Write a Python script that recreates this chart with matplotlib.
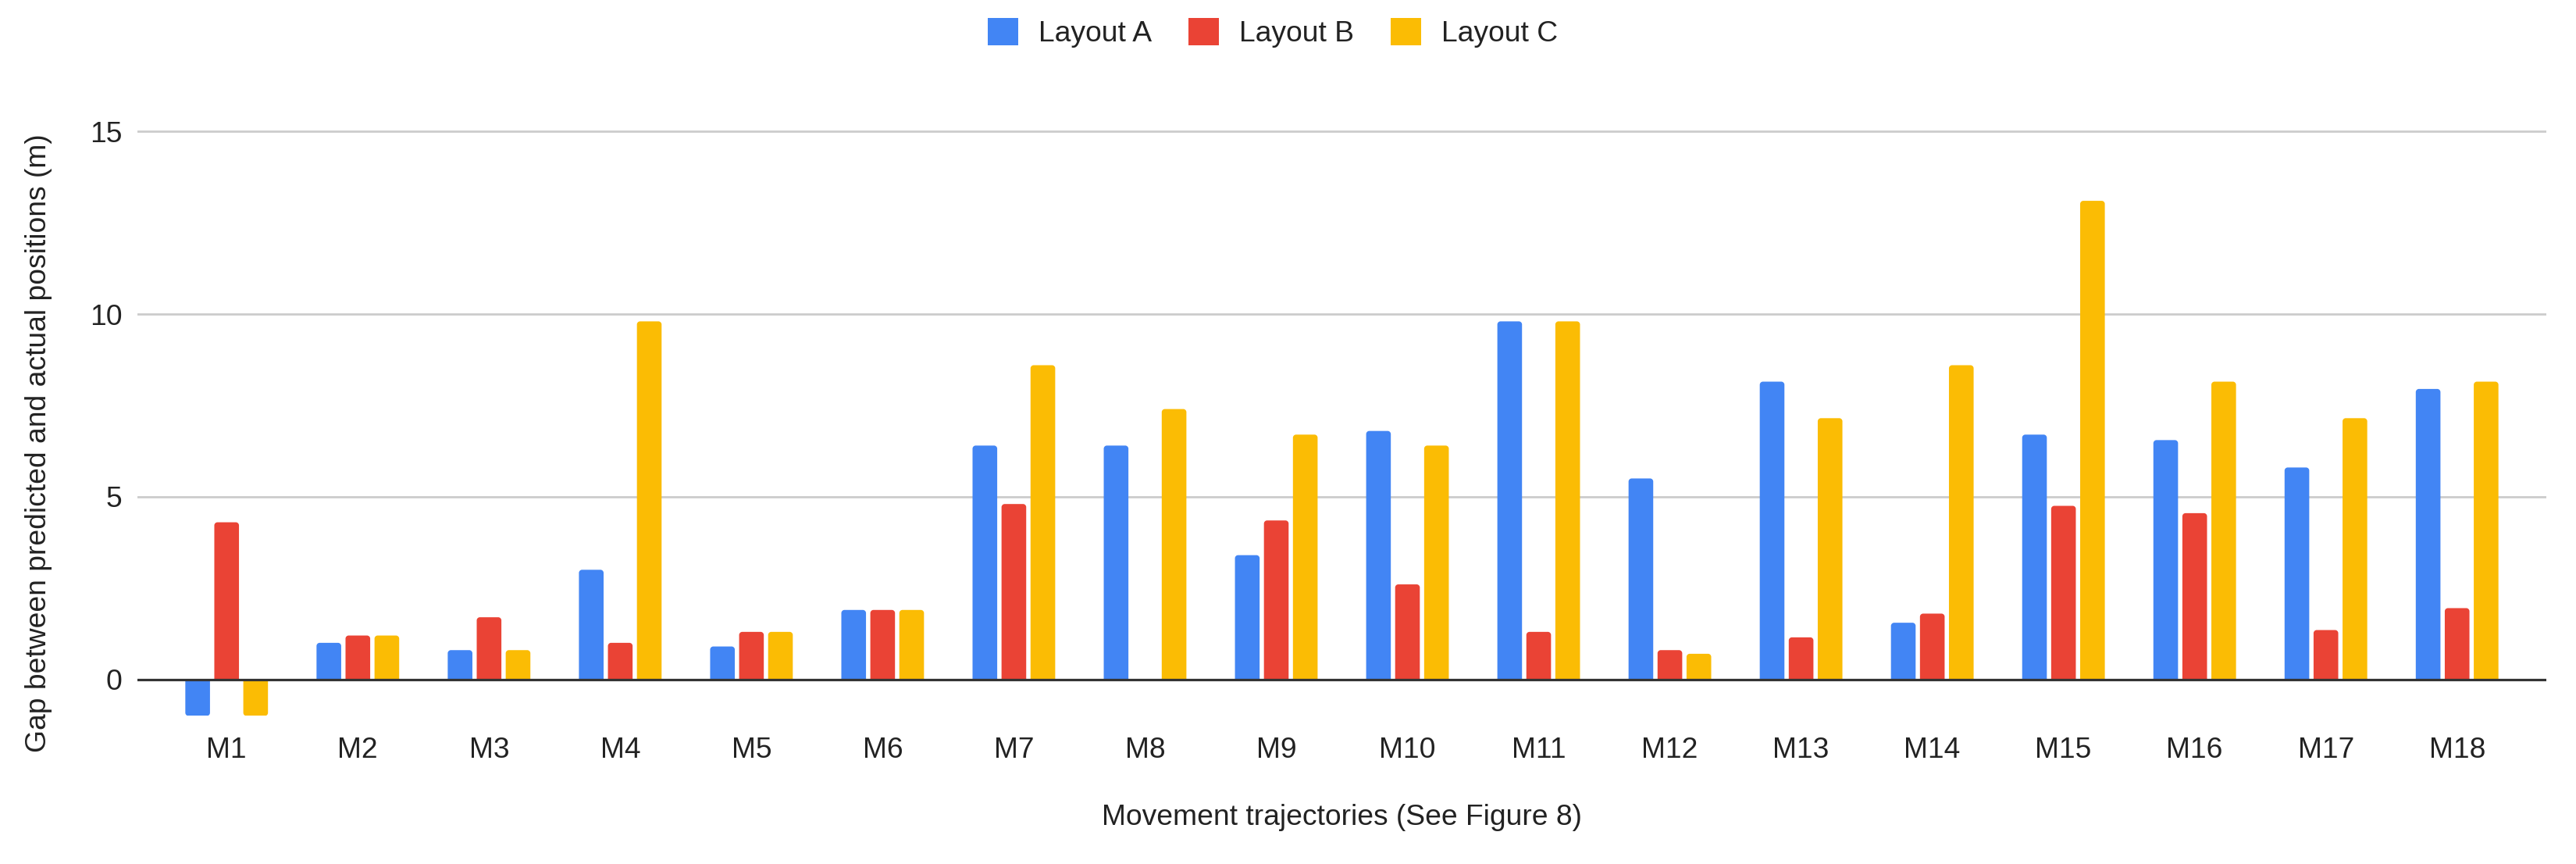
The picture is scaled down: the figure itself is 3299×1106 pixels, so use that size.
import matplotlib
matplotlib.use("Agg")
import matplotlib.pyplot as plt
from matplotlib.patches import PathPatch, Patch
from matplotlib.path import Path
import numpy as np

plt.rcParams['font.family'] = ['Liberation Sans', 'DejaVu Sans']

categories = ["M1", "M2", "M3", "M4", "M5", "M6", "M7", "M8", "M9",
              "M10", "M11", "M12", "M13", "M14", "M15", "M16", "M17", "M18"]
layout_a = [-1.0, 1.0, 0.8, 3.0, 0.9, 1.9, 6.4, 6.4, 3.4,
            6.8, 9.8, 5.5, 8.15, 1.55, 6.7, 6.55, 5.8, 7.95]
layout_b = [4.3, 1.2, 1.7, 1.0, 1.3, 1.9, 4.8, 0.0, 4.35,
            2.6, 1.3, 0.8, 1.15, 1.8, 4.75, 4.55, 1.35, 1.95]
layout_c = [-1.0, 1.2, 0.8, 9.8, 1.3, 1.9, 8.6, 7.4, 6.7,
            6.4, 9.8, 0.7, 7.15, 8.6, 13.1, 8.15, 7.15, 8.15]
series_names = ["Layout A", "Layout B", "Layout C"]
colors = ["#4285F4", "#EA4335", "#FBBC04"]
y_ticks = [0, 5, 10, 15]

FS = 26.8
W, H = 3299, 1106
fig = plt.figure(figsize=(W / 100, H / 100), dpi=100)
ax_l, ax_r, ax_b, ax_t = 176, 3261, 916.4, 154.2
ax = fig.add_axes([ax_l / W, 1 - ax_b / H, (ax_r - ax_l) / W, (ax_b - ax_t) / H])

xlim = (-0.68, len(categories) - 1 + 0.68)
ylim = (-1.0, 15.3)
ax.set_xlim(*xlim)
ax.set_ylim(*ylim)
px_per_x = (ax_r - ax_l) / (xlim[1] - xlim[0])
px_per_y = (ax_b - ax_t) / (ylim[1] - ylim[0])


def rounded_end_path(x0, w, h, rpx):
    """Bar from y=0 to y=h with rounded corners at the far end."""
    rx = rpx / px_per_x
    ry = min(rpx / px_per_y, abs(h) / 2) * np.sign(h)
    k = 0.5523
    x1 = x0 + w
    verts = [
        (x0, 0), (x0, h - ry),
        (x0, h - ry + k * ry), (x0 + rx - k * rx, h), (x0 + rx, h),
        (x1 - rx, h),
        (x1 - rx + k * rx, h), (x1, h - ry + k * ry), (x1, h - ry),
        (x1, 0), (x0, 0),
    ]
    codes = [Path.MOVETO, Path.LINETO,
             Path.CURVE4, Path.CURVE4, Path.CURVE4,
             Path.LINETO,
             Path.CURVE4, Path.CURVE4, Path.CURVE4,
             Path.LINETO, Path.CLOSEPOLY]
    return Path(verts, codes)


x = np.arange(len(categories))
pitch = 0.221
bw = 0.188
for i, (vals, name, col) in enumerate(zip([layout_a, layout_b, layout_c], series_names, colors)):
    bars = ax.bar(x + (i - 1) * pitch, vals, width=bw, color=col, zorder=2, linewidth=0)
    for p in bars.patches:
        h = p.get_height()
        p.set_visible(False)
        if h == 0:
            continue
        ax.add_patch(PathPatch(rounded_end_path(p.get_x(), p.get_width(), h, 4.0),
                               facecolor=col, edgecolor='none', zorder=2))

ax.set_yticks(y_ticks)
ax.set_yticklabels([str(t) for t in y_ticks])
for t in y_ticks:
    if t != 0:
        ax.axhline(t, color="#cccccc", lw=2.0, zorder=1)
ax.axhline(0, color="#333333", lw=2.3, zorder=3)

ax.set_xticks(x)
ax.set_xticklabels(categories)
ax.tick_params(axis='both', length=0, labelsize=FS, colors="#222222")
ax.tick_params(axis='y', pad=14)
ax.tick_params(axis='x', pad=19)
for s in ax.spines.values():
    s.set_visible(False)

fig.text(50 / W, 1 - 567 / H, "Gap between predicted and actual positions (m)",
         rotation=90, ha='center', va='center', fontsize=FS, color="#222222")
fig.text(1718 / W, 1 - 1046 / H, "Movement trajectories (See Figure 8)",
         ha='center', va='center', fontsize=FS, color="#222222")

handles = [Patch(facecolor=c, edgecolor='none', label=n) for c, n in zip(colors, series_names)]
leg = fig.legend(handles=handles, loc='center', bbox_to_anchor=(1630 / W, 1 - 42 / H),
                 ncol=3, frameon=False, fontsize=FS, handlelength=1.05, handleheight=1.1,
                 handletextpad=0.7, columnspacing=1.25)
for t in leg.get_texts():
    t.set_color("#222222")

fig.savefig("out.png", dpi=100, facecolor="white")
